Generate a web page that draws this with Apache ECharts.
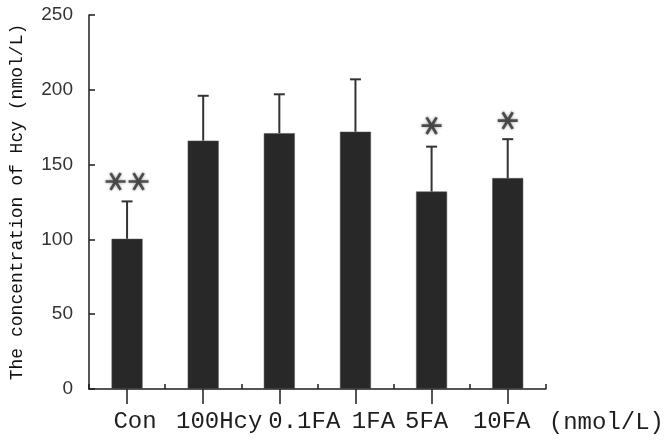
<!DOCTYPE html>
<html>
<head>
<meta charset="utf-8">
<script src="https://cdn.jsdelivr.net/npm/echarts@6/dist/echarts.min.js"></script>
<style>
html,body{margin:0;padding:0;background:#fff;}
#chart{width:667px;height:444px;}
</style>
</head>
<body>
<div id="chart"></div>
<script>
// ---- data ----
var categories = ['Con', '100Hcy', '0.1FA', '1FA', '5FA', '10FA'];
var means = [100.4, 166, 171, 172, 132, 141];
var sds = [25, 30, 26, 35, 30, 26];
var sigCategories = ['Con', '5FA', '10FA'];
var sigLevels = [2, 1, 1];
var sigHeights = [138.7, 176, 179.4];
var yTicks = [0, 50, 100, 150, 200, 250];
var xUnit = '(nmol/L)';
var yTitle = 'The concentration of Hcy (nmol/L)';

// ---- layout / styling ----
var labelNudge = [8, 16, 25, 18, -5, -6];   // horizontal label shifts (px)
var ink = '#1e1e1e';
var starPath = 'path://M0,43L100,43L100,57L0,57Z M18.94,10.2L31.06,3.2L81.06,89.8L68.94,96.8Z M68.94,3.2L81.06,10.2L31.06,96.8L18.94,89.8Z';

var rich = {};
categories.forEach(function (c, i) {
  var n = labelNudge[i];
  rich['n' + i] = {
    fontFamily: 'Liberation Mono', fontSize: 24, color: ink,
    padding: n >= 0 ? [0, 0, 0, 2 * n] : [0, -2 * n, 0, 0]
  };
});

var errData = categories.map(function (c, i) { return [i, means[i], means[i] + sds[i]]; });
var starData = [];
sigCategories.forEach(function (c, k) {
  var idx = categories.indexOf(c);
  var n = sigLevels[k];
  for (var j = 0; j < n; j++) {
    var off = (j - (n - 1) / 2) * 23;
    starData.push({ value: [idx, sigHeights[k]], symbolOffset: [off, 0] });
  }
});

var chart = echarts.init(document.getElementById('chart'), null, { renderer: 'canvas' });
chart.setOption({
  animation: false,
  backgroundColor: '#fff',
  grid: { left: 89, right: 118, top: 15, bottom: 55 },
  xAxis: [{
    type: 'category',
    data: categories,
    name: '{u|' + xUnit + '}',
    nameLocation: 'end',
    nameGap: 3,
    nameTextStyle: {
      rich: { u: { fontFamily: 'Liberation Mono', fontSize: 24, color: ink, padding: [68, 0, 0, 0] } }
    },
    axisLine: { show: true, lineStyle: { color: ink, width: 1.5 } },
    axisTick: { show: true, interval: 0, alignWithLabel: true, length: 15, lineStyle: { color: ink, width: 1.5 } },
    axisLabel: {
      interval: 0, margin: 21,
      formatter: function (v, i) { return '{n' + i + '|' + v + '}'; },
      rich: rich
    }
  }, {
    type: 'category',
    data: categories,
    position: 'bottom',
    axisLine: { show: false },
    axisTick: { show: true, interval: 0, inside: true, length: 5, lineStyle: { color: ink, width: 1.5 } },
    axisLabel: { show: false }
  }],
  yAxis: {
    type: 'value',
    min: yTicks[0], max: yTicks[yTicks.length - 1], interval: 50,
    name: yTitle,
    nameLocation: 'middle',
    nameGap: 63,
    nameTextStyle: { fontFamily: 'Liberation Mono', fontSize: 18, color: '#111' },
    axisLine: { show: true, lineStyle: { color: ink, width: 1.5 } },
    axisTick: { show: true, inside: true, length: 6, lineStyle: { color: ink, width: 1.5 } },
    splitLine: { show: false },
    axisLabel: { fontFamily: 'Liberation Sans', fontSize: 19, color: '#333', margin: 16 }
  },
  series: [{
    type: 'bar',
    data: means,
    barWidth: 31,
    itemStyle: { color: '#282828', borderColor: '#555', borderWidth: 0.5 }
  }, {
    type: 'custom',
    data: errData,
    z: 5,
    renderItem: function (params, api) {
      var base = api.coord([api.value(0), api.value(1)]);
      var top = api.coord([api.value(0), api.value(2)]);
      var hw = 5.5;
      var st = { stroke: '#333', lineWidth: 2 };
      return {
        type: 'group',
        children: [
          { type: 'line', shape: { x1: base[0], y1: base[1], x2: top[0], y2: top[1] }, style: st },
          { type: 'line', shape: { x1: top[0] - hw, y1: top[1], x2: top[0] + hw, y2: top[1] }, style: st }
        ]
      };
    }
  }, {
    type: 'scatter',
    data: starData,
    symbol: starPath,
    symbolSize: [20, 18],
    itemStyle: { color: '#2e2e2e', shadowBlur: 3, shadowColor: 'rgba(0,0,0,0.5)' },
    z: 6
  }]
});
</script>
</body>
</html>
